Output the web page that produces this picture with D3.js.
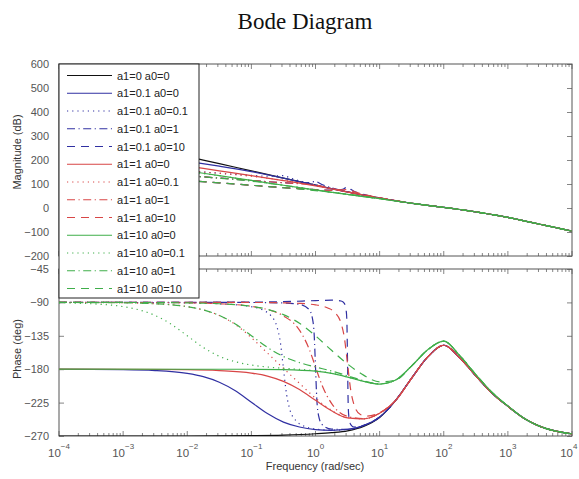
<!DOCTYPE html>
<html>
<head>
<meta charset="utf-8">
<script src="https://cdn.jsdelivr.net/npm/d3@7"></script>
<style>
  html, body { margin: 0; padding: 0; background: #fff; }
  svg { display: block; }
  text { font-family: "Liberation Sans", Arial, sans-serif; }
</style>
</head>
<body>
<svg id="chart" width="579" height="479"></svg>
<script>
// ---------------- data (x = log10 frequency, y = value) ----------------
const legendLabels = ["a1=0 a0=0", "a1=0.1 a0=0", "a1=0.1 a0=0.1", "a1=0.1 a0=1", "a1=0.1 a0=10",
  "a1=1 a0=0", "a1=1 a0=0.1", "a1=1 a0=1", "a1=1 a0=10",
  "a1=10 a0=0", "a1=10 a0=0.1", "a1=10 a0=1", "a1=10 a0=10"];

const magTicks = [600, 500, 400, 300, 200, 100, 0, -100, -200];
const phaseTicks = [-45, -90, -135, -180, -225, -270];
const freqExponents = [-4, -3, -2, -1, 0, 1, 2, 3, 4];

// magnitude (dB), low-frequency part of each curve
const mag_0_0 = [[-4,334.8],[-3,274.8],[-2,214.8],[-1.5,184.8],[-1,154.8],[-0.5,124.8],[0,95.3],[0.5,66.8],[1,41.8],[1.25,30.3]];
const mag_01_0 = [[-4,274.8],[-3,234.8],[-2,194.8],[-1.5,174.4],[-1,151.8],[-0.75,138.6],[-0.5,124.4],[-0.25,109.9],[0,95.3],[0.5,66.8],[1,41.8],[1.25,30.3]];
const mag_01_01 = [[-4,194.8],[-3,174.8],[-2,154.8],[-1.5,144.9],[-1,135.7],[-0.75,132.8],[-0.6,133.8],[-0.5,134.8],[-0.4,125.8],[-0.25,113.0],[0,96.2],[0.25,81.1],[0.5,66.8],[1,41.8],[1.25,30.3]];
const mag_01_1 = [[-4,174.8],[-3,154.8],[-2,134.8],[-1.5,124.8],[-1,114.9],[-0.5,105.7],[-0.25,103.3],[-0.1,105.6],[0,110],[0.1,97.9],[0.25,84.1],[0.5,67.7],[0.75,54.1],[1,41.8],[1.25,30.3]];
const mag_01_10 = [[-4,154.8],[-3,134.8],[-2,114.8],[-1.5,104.8],[-1,94.8],[-0.5,84.9],[-0.25,80.3],[0,76.2],[0.25,74.1],[0.4,77.0],[0.45,81.3],[0.5,90],[0.55,77.7],[0.6,69.9],[0.75,57.1],[1,42.7],[1.25,30.3]];
const mag_1_0 = [[-4,254.8],[-3,214.8],[-2,174.8],[-1.5,154.8],[-1,134.8],[-0.75,124.7],[-0.5,114.4],[-0.25,103.8],[0,92.3],[0.25,79.6],[0.5,66.4],[0.75,53.7],[1,41.8],[1.25,30.3]];
const mag_1_01 = [[-4,194.8],[-3,174.8],[-2,154.8],[-1.5,144.5],[-1,132.2],[-0.75,124.2],[-0.5,114.8],[-0.25,104.4],[0,92.7],[0.25,79.8],[0.5,66.5],[0.75,53.7],[1,41.8],[1.25,30.3]];
const mag_1_1 = [[-4,174.8],[-3,154.8],[-2,134.8],[-1.5,124.8],[-1,114.8],[-0.75,109.9],[-0.5,105.2],[-0.25,101.1],[0,95.3],[0.25,81.9],[0.5,67.2],[0.75,53.9],[1,41.8],[1.25,30.3]];
const mag_1_10 = [[-4,154.8],[-3,134.8],[-2,114.8],[-1.5,104.8],[-1,94.8],[-0.75,89.8],[-0.5,84.9],[-0.25,80.3],[0,76.2],[0.25,73.8],[0.4,75.4],[0.5,76.8],[0.6,68.3],[0.75,56.8],[1,42.7],[1.25,30.6]];
const mag_10_0 = [[-4,234.8],[-3,194.8],[-2,154.8],[-1.5,134.8],[-1,114.8],[-0.75,104.8],[-0.5,94.8],[-0.25,85.0],[0,75.3],[0.25,65.7],[0.5,56.4],[0.75,47.6],[1,38.8],[1.25,29.1]];
const mag_10_01 = [[-4,194.8],[-3,174.8],[-2.5,164.4],[-2.25,158.6],[-2,151.8],[-1.75,143.6],[-1.5,134.4],[-1,114.8],[-0.5,94.8],[0,75.3],[0.5,56.4],[0.75,47.6],[1,38.8],[1.25,29.1]];
const mag_10_1 = [[-4,174.8],[-3,154.8],[-2,134.8],[-1.5,124.4],[-1.25,118.6],[-1,111.8],[-0.75,103.7],[-0.5,94.5],[-0.25,84.9],[0,75.3],[0.25,65.7],[0.5,56.5],[0.75,47.7],[1,38.8],[1.25,29.1]];
const mag_10_10 = [[-4,154.8],[-3,134.8],[-2,114.8],[-1.5,104.8],[-1,94.8],[-0.75,89.7],[-0.5,84.5],[-0.25,79.0],[0,72.7],[0.25,65.2],[0.5,56.8],[0.75,48.2],[1,39.2],[1.25,29.3]];
// common high-frequency magnitude, shared by all curves
const magTail = [[1.5,19.8],[1.75,10.8],[2,2.8],[2.25,-6.2],[2.5,-16.2],[2.75,-27.2],[3,-39.2],[3.25,-53.3],[3.5,-67.7],[3.75,-82],[4,-96.7]];

// phase (deg), low-frequency part of each curve
const ph_0_0 = [[-4,-270],[-2,-270],[-1,-269.5],[-0.5,-268.8],[0,-267],[0.25,-265.5],[0.5,-263],[0.75,-257],[1,-245]];
const ph_01_0 = [[-4,-180.1],[-3,-180.6],[-2.5,-181.8],[-2,-185.7],[-1.75,-190.1],[-1.5,-197.6],[-1.25,-209.1],[-1,-224.5],[-0.75,-239.8],[-0.5,-251.3],[-0.25,-257.9],[0,-261.3],[0.25,-262.3],[0.5,-261.2],[0.75,-256],[1,-244.4]];
const ph_01_01 = [[-4,-90],[-3,-90.1],[-2,-90.6],[-1.5,-91.8],[-1,-95.8],[-0.8,-101.2],[-0.7,-107.4],[-0.6,-123.2],[-0.55,-142.7],[-0.5,-178.8],[-0.45,-214.7],[-0.4,-234.3],[-0.3,-249.9],[-0.2,-255.9],[0,-260.7],[0.25,-262.2],[0.5,-261.2],[0.75,-256],[1,-244.4]];
const ph_01_1 = [[-4,-90],[-2,-90.1],[-1,-90.1],[-0.5,-90.8],[-0.25,-92.7],[-0.1,-99.6],[-0.05,-110.6],[-0.02,-134.4],[0,-177],[0.02,-219.6],[0.05,-243.3],[0.1,-254.3],[0.25,-260.8],[0.5,-261],[0.75,-255.9],[1,-244.4]];
const ph_01_10 = [[-4,-90],[-1,-89.6],[-0.5,-89],[0,-87.6],[0.25,-87],[0.4,-88.1],[0.45,-91.4],[0.48,-102.1],[0.49,-117.6],[0.5,-173],[0.51,-228.4],[0.52,-243.8],[0.55,-254.6],[0.6,-257.9],[0.75,-255.5],[1,-244.4]];
const ph_1_0 = [[-4,-180],[-3,-180.1],[-2,-180.6],[-1.5,-181.8],[-1,-185.2],[-0.75,-189.3],[-0.5,-196.4],[-0.25,-207.4],[0,-222],[0.25,-236.1],[0.5,-245.5],[0.75,-246.9],[1,-239.3]];
const ph_1_01 = [[-4,-90.1],[-3,-90.6],[-2.5,-91.8],[-2,-95.7],[-1.75,-100.1],[-1.5,-107.7],[-1.25,-119.8],[-1,-137.5],[-0.75,-158.2],[-0.6,-170.6],[-0.5,-178.8],[-0.4,-186.9],[-0.25,-199],[0,-219],[0.25,-235.4],[0.5,-245.3],[0.75,-246.9],[1,-239.3]];
const ph_1_1 = [[-4,-90],[-3,-90.1],[-2,-90.6],[-1.5,-91.8],[-1,-95.3],[-0.75,-99.6],[-0.5,-108.2],[-0.25,-127.4],[-0.1,-152.5],[0,-177],[0.1,-201.3],[0.25,-226.1],[0.5,-243.6],[0.75,-246.6],[1,-239.2]];
const ph_1_10 = [[-4,-90],[-2,-90.1],[-1,-90.1],[-0.5,-90.6],[-0.25,-91.3],[0,-93.3],[0.1,-94.9],[0.2,-97.8],[0.3,-103.3],[0.4,-118.4],[0.45,-137.5],[0.5,-173],[0.55,-208.5],[0.6,-227.6],[0.7,-241.1],[0.8,-243.1],[1,-238.7]];
const ph_10_0 = [[-4,-180],[-2,-180.1],[-1,-180.1],[-0.5,-180.6],[0,-182.7],[0.25,-185.6],[0.5,-190.6],[0.75,-196.4],[1,-200]];
const ph_10_01 = [[-4,-90.6],[-3.5,-91.8],[-3,-95.7],[-2.75,-100.1],[-2.5,-107.6],[-2.25,-119.4],[-2,-135],[-1.75,-150.7],[-1.5,-162.6],[-1.25,-169.9],[-1,-174.4],[-0.75,-177],[-0.5,-178.8],[-0.25,-180.2],[0,-182.1],[0.25,-185.3],[0.5,-190.4],[0.75,-196.3],[1,-200]];
const ph_10_1 = [[-4,-90.1],[-3,-90.6],[-2.5,-91.8],[-2,-95.7],[-1.75,-100.1],[-1.5,-107.6],[-1.25,-119.1],[-1,-134.8],[-0.75,-150.6],[-0.5,-162.9],[-0.25,-171.1],[0,-177],[0.25,-182.4],[0.5,-188.9],[0.75,-195.6],[1,-199.7]];
const ph_10_10 = [[-4,-90],[-3,-90.1],[-2,-90.6],[-1.5,-91.8],[-1,-95.2],[-0.75,-99.3],[-0.5,-106.5],[-0.25,-118.1],[0,-135],[0.25,-154.5],[0.5,-173],[0.75,-188],[1,-197]];
// shared high-frequency phase: a1 <= 1 curves and a1 = 10 curves
const phTailMain = [[1.25,-222],[1.5,-192],[1.75,-163.5],[2,-147.7],[2.25,-164.8],[2.5,-188.9],[2.75,-212],[3,-230],[3.25,-246],[3.5,-257],[3.75,-263.5],[4,-267]];
const phTailGreen = [[1.25,-194.6],[1.5,-175.5],[1.75,-153.9],[2,-142.3],[2.25,-161.8],[2.5,-187.2],[2.75,-211],[3,-229.6],[3.25,-246],[3.5,-257],[3.75,-263.5],[4,-267]];

const magHeads = [mag_0_0, mag_01_0, mag_01_01, mag_01_1, mag_01_10, mag_1_0, mag_1_01, mag_1_1, mag_1_10, mag_10_0, mag_10_01, mag_10_1, mag_10_10];
const phHeads = [ph_0_0, ph_01_0, ph_01_01, ph_01_1, ph_01_10, ph_1_0, ph_1_01, ph_1_1, ph_1_10, ph_10_0, ph_10_01, ph_10_1, ph_10_10];
const seriesGroup = ["k", "b", "b", "b", "b", "r", "r", "r", "r", "g", "g", "g", "g"];
const seriesStyle = ["solid", "solid", "dot", "dashdot", "dash", "solid", "dot", "dashdot", "dash", "solid", "dot", "dashdot", "dash"];

// ---------------- styles ----------------
const colorOf = { k: "#111111", b: "#3030a2", r: "#d84646", g: "#3fae4a" };
const dashOf = { solid: null, dot: "1.2,4", dashdot: "8,3.5,1.2,3.5", dash: "8,6" };

// ---------------- layout ----------------
const svg = d3.select("#chart");
const L = 59, R = 572;
const magTop = 64, magBot = 256, phTop = 269, phBot = 436;

const x = d3.scaleLog().domain([1e-4, 1e4]).range([L, R]);
const yMag = d3.scaleLinear().domain([-200, 600]).range([magBot, magTop]);
const yPh = d3.scaleLinear().domain([-270, -45]).range([phBot, phTop]);

// title
svg.append("text").attr("x", 305).attr("y", 29).attr("text-anchor", "middle")
  .style("font-family", "'Liberation Serif', 'Times New Roman', serif")
  .style("font-size", "23px").attr("fill", "#111").text("Bode Diagram");

// clip paths
const defs = svg.append("defs");
defs.append("clipPath").attr("id", "clipMag").append("rect")
  .attr("x", L).attr("y", magTop).attr("width", R - L).attr("height", magBot - magTop);
defs.append("clipPath").attr("id", "clipPh").append("rect")
  .attr("x", L).attr("y", phTop).attr("width", R - L).attr("height", phBot - phTop);

function drawAxesFrame(yScale, top, bot, yTickVals, showXLabels) {
  const g = svg.append("g");
  const tickColor = "#666";
  // minor + major x ticks (top and bottom, inside)
  const allX = x.ticks();
  allX.forEach(v => {
    const major = Math.abs(Math.log10(v) - Math.round(Math.log10(v))) < 1e-9;
    const len = major ? 5 : 3;
    const px = x(v);
    g.append("line").attr("x1", px).attr("x2", px).attr("y1", bot).attr("y2", bot - len)
      .attr("stroke", tickColor).attr("stroke-width", 0.8);
    g.append("line").attr("x1", px).attr("x2", px).attr("y1", top).attr("y2", top + len)
      .attr("stroke", tickColor).attr("stroke-width", 0.8);
  });
  // y ticks left and right
  const axL = d3.axisLeft(yScale).tickValues(yTickVals).tickSize(-5).tickPadding(10)
    .tickFormat(d => d < 0 ? "\u2212" + Math.abs(d) : d);
  const ga = g.append("g").attr("transform", `translate(${L},0)`).call(axL);
  ga.select(".domain").remove();
  ga.selectAll(".tick line").attr("stroke", tickColor).attr("stroke-width", 0.8);
  ga.selectAll(".tick text").attr("fill", "#555").style("font-size", "11px")
    .style("font-family", "'Liberation Sans', Arial, sans-serif");
  const axR = d3.axisRight(yScale).tickValues(yTickVals).tickSize(-5).tickFormat("");
  const gr = g.append("g").attr("transform", `translate(${R},0)`).call(axR);
  gr.select(".domain").remove();
  gr.selectAll(".tick line").attr("stroke", tickColor).attr("stroke-width", 0.8);
  // box
  g.append("rect").attr("x", L).attr("y", top).attr("width", R - L).attr("height", bot - top)
    .attr("fill", "none").attr("stroke", "#555").attr("stroke-width", 1);
  if (showXLabels) {
    freqExponents.forEach(e => {
      const t = g.append("text").attr("x", x(Math.pow(10, e))).attr("y", bot + 21)
        .attr("text-anchor", "middle").attr("fill", "#555").style("font-size", "11.5px");
      t.append("tspan").text("10");
      t.append("tspan").attr("dy", -8).style("font-size", "8px")
        .text(e < 0 ? "\u2212" + Math.abs(e) : String(e));
      // keep the label inside the picture
      const bb = t.node().getBBox();
      if (bb.x + bb.width > 578) t.attr("x", +t.attr("x") - (bb.x + bb.width - 578));
    });
  }
  return g;
}

drawAxesFrame(yMag, magTop, magBot, magTicks, false);
drawAxesFrame(yPh, phTop, phBot, phaseTicks, true);

// axis labels
svg.append("text").attr("transform", "translate(21,152) rotate(-90)").attr("text-anchor", "middle")
  .attr("fill", "#333").style("font-size", "11px").text("Magnitude (dB)");
svg.append("text").attr("transform", "translate(21,349) rotate(-90)").attr("text-anchor", "middle")
  .attr("fill", "#333").style("font-size", "11px").text("Phase (deg)");
svg.append("text").attr("x", 315).attr("y", 470).attr("text-anchor", "middle")
  .attr("fill", "#333").style("font-size", "11px").text("Frequency  (rad/sec)");

// curves
function drawCurves(heads, tails, yScale, clipId) {
  const g = svg.append("g").attr("clip-path", `url(#${clipId})`);
  const line = d3.line().x(d => x(Math.pow(10, d[0]))).y(d => yScale(d[1])).curve(d3.curveMonotoneX);
  heads.forEach((head, i) => {
    const pts = head.concat(tails(i));
    g.append("path").datum(pts).attr("d", line).attr("fill", "none")
      .attr("stroke", colorOf[seriesGroup[i]]).attr("stroke-width", 1.2)
      .attr("stroke-dasharray", dashOf[seriesStyle[i]]);
  });
}
drawCurves(magHeads, i => magTail, yMag, "clipMag");
drawCurves(phHeads, i => (seriesGroup[i] === "g" ? phTailGreen : phTailMain), yPh, "clipPh");

// legend
const lg = svg.append("g");
const legX = 59, legY = 64, legW = 140, legH = 234, rowH = 17.75;
lg.append("rect").attr("x", legX).attr("y", legY).attr("width", legW).attr("height", legH)
  .attr("fill", "#fff").attr("stroke", "#222").attr("stroke-width", 1);
legendLabels.forEach((lab, i) => {
  const yy = legY + 11.5 + i * rowH;
  lg.append("line").attr("x1", 67).attr("x2", 112).attr("y1", yy).attr("y2", yy)
    .attr("stroke", colorOf[seriesGroup[i]]).attr("stroke-width", 1)
    .attr("stroke-dasharray", dashOf[seriesStyle[i]]);
  lg.append("text").attr("x", 117).attr("y", yy + 4).attr("fill", "#222")
    .style("font-size", "11px").text(lab);
});
</script>
</body>
</html>
